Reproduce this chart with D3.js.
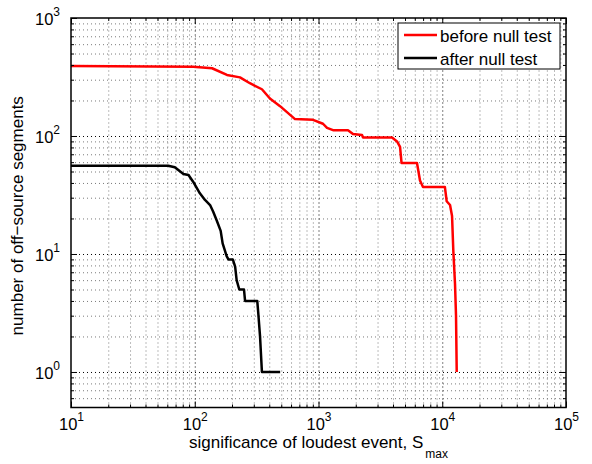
<!DOCTYPE html>
<html>
<head>
<meta charset="utf-8">
<script src="https://cdn.jsdelivr.net/npm/d3@7"></script>
<style>
  html, body { margin: 0; padding: 0; background: #fff; }
  svg { display: block; font-family: "Liberation Sans", Arial, Helvetica, sans-serif; }
</style>
</head>
<body>
<svg id="chart" width="592" height="464"></svg>
<script>
// ---- data ----
const beforeX = [10, 97, 138, 182, 232, 279, 349, 405, 489, 646, 903, 1087, 1172, 1310, 1731, 1900, 2247, 2290, 3930, 4310, 4560, 4690, 6250, 6610, 6990, 10500, 10860, 11560, 12000, 12280, 12680, 12920, 13090];
const beforeY = [392, 387, 375, 329, 314, 280, 249, 208, 179, 139, 137, 127, 117, 112, 112, 104, 102, 97, 97, 90, 81, 59, 59, 42, 37, 37, 28, 26, 21, 10.8, 5.6, 3, 1];
const afterX = [10, 61, 69, 81, 89, 97, 110, 121, 133, 141, 150, 162, 168, 181, 187, 203, 212, 218, 229, 250, 255, 320, 326, 337, 349, 490];
const afterY = [56, 56, 54.3, 47.6, 46.7, 41, 32.7, 28.7, 26, 22.8, 19.4, 15.7, 12.3, 9.6, 9, 9, 7.8, 6, 5, 5, 4, 4, 3.16, 2, 1, 1];
const seriesNames = ["before null test", "after null test"];
const xTickExps = [1, 2, 3, 4, 5];
const yTickExps = [0, 1, 2, 3];
const xLabel = "significance of loudest event, S";
const xLabelSub = "max";
const yLabel = "number of off\u2212source segments";

// ---- layout ----
const svg = d3.select("#chart");
const L = 71, R = 566, T = 18, B = 407.5;
const W = R - L, H = B - T;
const x = d3.scaleLog().domain([10, 1e5]).range([0, W]);
const y = d3.scaleLog().domain([0.5, 1000]).range([H, 0]);

const xMajor = xTickExps.map(e => Math.pow(10, e));
const yMajor = yTickExps.map(e => Math.pow(10, e));
const xMinor = [];
for (let e = 1; e < 5; e++) for (let m = 2; m <= 9; m++) xMinor.push(m * Math.pow(10, e));
const yMinor = [0.6, 0.7, 0.8, 0.9];
for (let e = 0; e < 3; e++) for (let m = 2; m <= 9; m++) yMinor.push(m * Math.pow(10, e));

const g = svg.append("g").attr("transform", `translate(${L},${T})`);

// ---- grid ----
function styleGrid(sel, color, dash) {
  sel.select(".domain").remove();
  sel.selectAll(".tick line").attr("stroke", color).attr("stroke-dasharray", dash).attr("stroke-width", 1);
  sel.selectAll(".tick text").remove();
}
g.append("g").attr("transform", `translate(0,${H})`)
  .call(d3.axisBottom(x).tickValues(xMinor).tickSize(-H).tickFormat(""))
  .call(s => styleGrid(s, "#7a7a7a", "1,3"));
g.append("g")
  .call(d3.axisLeft(y).tickValues(yMinor).tickSize(-W).tickFormat(""))
  .call(s => styleGrid(s, "#7a7a7a", "1,3"));
g.append("g").attr("transform", `translate(0,${H})`)
  .call(d3.axisBottom(x).tickValues(xMajor.slice(1, -1)).tickSize(-H).tickFormat(""))
  .call(s => styleGrid(s, "#000", "1,3"));
g.append("g")
  .call(d3.axisLeft(y).tickValues(yMajor.slice(0, -1)).tickSize(-W).tickFormat(""))
  .call(s => styleGrid(s, "#000", "1,3"));

// ---- lines ----
const line = d3.line().x(d => x(d[0])).y(d => y(d[1]));
const beforeData = beforeX.map((v, i) => [v, beforeY[i]]);
const afterData = afterX.map((v, i) => [v, afterY[i]]);
g.append("path").datum(beforeData).attr("d", line)
  .attr("fill", "none").attr("stroke", "#ff0000").attr("stroke-width", 2.5).attr("stroke-linejoin", "round");
g.append("path").datum(afterData).attr("d", line)
  .attr("fill", "none").attr("stroke", "#000").attr("stroke-width", 2.5).attr("stroke-linejoin", "round");

// ---- axes (ticks inward on all four sides) ----
function cleanAxis(sel) {
  sel.select(".domain").remove();
  sel.selectAll(".tick line").attr("stroke", "#000").attr("stroke-width", 1);
}
function supLabels(sel) {
  sel.selectAll(".tick text").each(function (d) {
    const t = d3.select(this);
    t.text(null).attr("fill", "#000").attr("font-size", 16.5);
    t.append("tspan").text("10");
    t.append("tspan").text(Math.round(Math.log10(d))).attr("font-size", 12).attr("dy", -9);
  });
}
// bottom
g.append("g").attr("transform", `translate(0,${H})`)
  .call(d3.axisBottom(x).tickValues(xMinor).tickSize(-3).tickFormat("")).call(cleanAxis);
g.append("g").attr("transform", `translate(0,${H})`)
  .call(d3.axisBottom(x).tickValues(xMajor).tickSize(-6).tickPadding(11)).call(cleanAxis).call(supLabels);
// top
g.append("g")
  .call(d3.axisTop(x).tickValues(xMinor).tickSize(-3).tickFormat("")).call(cleanAxis);
g.append("g")
  .call(d3.axisTop(x).tickValues(xMajor).tickSize(-6).tickFormat("")).call(cleanAxis);
// left
g.append("g")
  .call(d3.axisLeft(y).tickValues(yMinor).tickSize(-3).tickFormat("")).call(cleanAxis);
g.append("g")
  .call(d3.axisLeft(y).tickValues(yMajor).tickSize(-6).tickPadding(11)).call(cleanAxis).call(supLabels)
  .call(s => s.selectAll(".tick text").attr("dy", "0.42em"));
// right
g.append("g").attr("transform", `translate(${W},0)`)
  .call(d3.axisRight(y).tickValues(yMinor).tickSize(-3).tickFormat("")).call(cleanAxis);
g.append("g").attr("transform", `translate(${W},0)`)
  .call(d3.axisRight(y).tickValues(yMajor).tickSize(-6).tickFormat("")).call(cleanAxis);

// frame
g.append("rect").attr("x", 0).attr("y", 0).attr("width", W).attr("height", H)
  .attr("fill", "none").attr("stroke", "#000").attr("stroke-width", 1.5);

// ---- axis titles ----
const xt = svg.append("text").attr("x", L + W / 2).attr("y", 448)
  .attr("text-anchor", "middle").attr("font-size", 17).attr("fill", "#000");
xt.append("tspan").text(xLabel);
xt.append("tspan").text(xLabelSub).attr("font-size", 12).attr("dy", 10).attr("dx", 2);

svg.append("text").attr("transform", `translate(23,${T + H / 2 + 3}) rotate(-90)`)
  .attr("text-anchor", "middle").attr("font-size", 17).attr("fill", "#000").text(yLabel);

// ---- legend ----
const lg = svg.append("g").attr("transform", "translate(398,23)");
lg.append("rect").attr("width", 162).attr("height", 46).attr("fill", "#fff").attr("stroke", "#000").attr("stroke-width", 1);
const colors = ["#ff0000", "#000"];
seriesNames.forEach((name, i) => {
  const yy = 12 + i * 23;
  lg.append("line").attr("x1", 6).attr("x2", 39).attr("y1", yy).attr("y2", yy)
    .attr("stroke", colors[i]).attr("stroke-width", 2.5);
  lg.append("text").attr("x", 42).attr("y", yy + 6.5).attr("font-size", 17).attr("fill", "#000").text(name);
});
</script>
</body>
</html>
